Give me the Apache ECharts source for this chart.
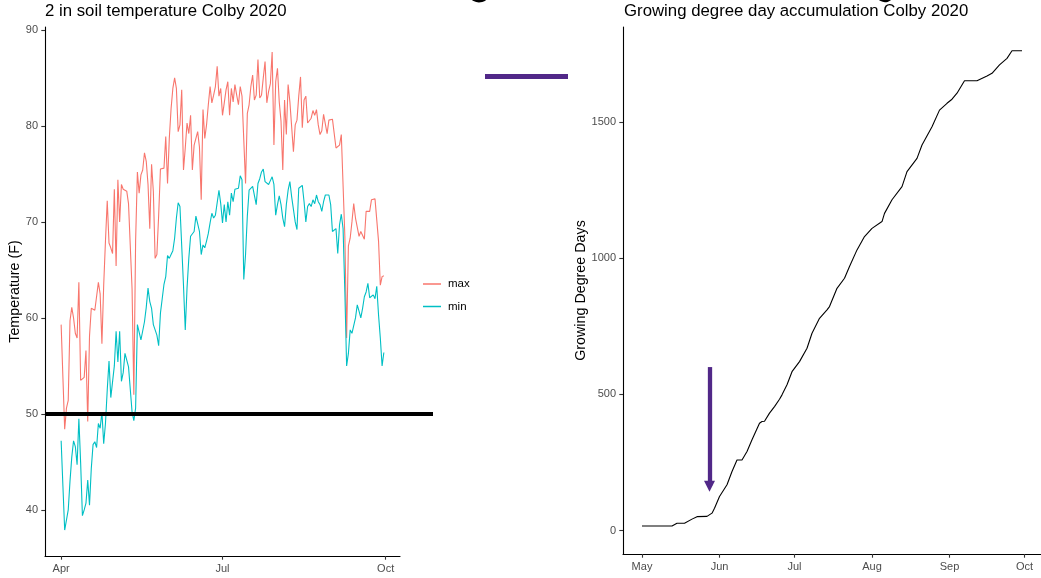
<!DOCTYPE html>
<html><head><meta charset="utf-8">
<script src="https://cdn.jsdelivr.net/npm/echarts@6/dist/echarts.min.js"></script>
<style>html,body{margin:0;padding:0;background:#fff}#c{width:1041px;height:578px}</style>
</head><body><div id="c"></div>
<script>
// ---------- data ----------
const soilStart = '2020-04-01';
const maxTemp = [
59.3,53.8,48.4,50.6,51.4,59.7,61.1,60.0,58.4,57.9,63.7,53.5,53.7,53.8,56.6,49.2,58.1,61.0,60.9,60.8,
60.7,63.7,62.5,57.3,63.4,68.0,72.2,67.8,67.3,66.7,73.4,65.4,74.4,70.0,73.9,73.4,73.5,73.2,71.9,71.8,
63.0,52.0,68.0,75.2,73.0,74.9,75.4,77.2,76.3,73.9,69.3,76.0,73.2,66.2,66.6,70.7,75.5,75.6,75.6,78.9,
74.0,78.7,81.8,83.9,85.0,83.9,79.4,80.1,83.75,75.4,77.7,80.3,79.2,81.1,75.4,78.0,78.0,79.4,77.8,72.3,
81.7,78.7,80.1,82.2,84.1,82.4,83.2,84.1,86.2,83.1,83.9,81.1,82.4,83.75,84.6,81.1,83.9,82.5,84.3,83.2,
82.2,84.1,83.1,83.3,74.0,81.3,82.2,84.1,85.3,82.7,83.2,86.9,82.9,83.2,85.0,86.7,82.4,83.6,84.4,87.7,
78.0,84.6,86.0,82.5,80.5,75.4,82.7,79.1,84.3,82.5,82.4,77.3,80.1,80.6,83.1,85.1,79.8,82.7,83.1,80.3,
80.3,80.8,81.6,81.1,81.7,80.1,79.1,79.5,81.2,81.0,79.2,80.6,80.5,80.7,80.5,77.7,77.5,78.0,79.1,79.1,
68.5,57.9,67.5,68.3,70.0,71.9,70.4,70.4,68.5,69.0,68.8,68.2,71.1,71.3,71.1,72.3,72.3,72.4,72.4,68.0,
63.4,64.3,64.4];
const minTemp = [
47.2,42.5,37.9,37.7,40.0,43.0,45.5,47.2,46.6,44.7,49.5,44.9,39.4,40.0,40.7,43.1,40.5,44.3,46.8,47.1,
46.5,49.0,48.5,50.2,46.9,49.0,52.5,55.5,51.7,51.7,55.0,58.6,55.4,58.6,53.4,54.3,56.3,56.1,54.9,54.7,
50.2,49.3,50.6,59.3,59.3,57.7,57.6,59.6,61.1,63.1,61.7,61.0,59.3,59.2,58.2,57.1,60.5,62.0,63.5,64.3,
66.5,66.2,66.6,67.0,68.3,70.4,72.0,71.6,71.6,63.4,58.75,63.1,66.2,68.5,68.7,69.0,70.6,70.6,69.0,66.6,
67.6,67.3,68.0,68.8,69.9,70.9,70.4,70.7,70.6,73.3,71.9,69.9,71.8,70.0,72.1,70.7,73.0,72.1,73.4,73.5,
73.5,74.8,74.4,64.0,66.6,70.6,73.3,73.5,73.7,73.9,71.8,74.0,74.5,75.2,75.5,74.2,74.0,73.9,74.3,74.7,
73.9,70.7,71.8,72.7,71.8,70.4,69.5,71.8,73.3,74.2,72.6,72.5,70.0,69.2,73.5,73.7,73.8,72.1,70.0,71.6,
71.9,71.6,72.3,71.9,72.8,72.1,71.8,71.1,72.1,72.8,73.0,72.8,71.8,69.0,69.0,69.3,66.7,69.7,70.8,69.3,
62.7,55.0,56.3,58.75,58.4,58.4,60.0,61.35,60.7,60.0,61.0,62.2,62.7,63.6,62.1,62.1,62.4,62.0,63.3,60.3,
57.9,55.0,56.4];
const gddDates = ['2020-05-01','2020-05-13','2020-05-15','2020-05-18','2020-05-21','2020-05-23','2020-05-27',
 '2020-05-29','2020-05-30','2020-06-01','2020-06-04','2020-06-06','2020-06-08','2020-06-10','2020-06-12',
 '2020-06-14','2020-06-17','2020-06-18','2020-06-19','2020-06-21','2020-06-23','2020-06-25','2020-06-26',
 '2020-06-28','2020-06-30','2020-07-03','2020-07-06','2020-07-08','2020-07-11','2020-07-14','2020-07-15',
 '2020-07-18','2020-07-21','2020-07-23','2020-07-26','2020-07-29','2020-08-01','2020-08-05','2020-08-06',
 '2020-08-09','2020-08-13','2020-08-15','2020-08-19','2020-08-21','2020-08-25','2020-08-28','2020-08-31',
 '2020-09-02','2020-09-04','2020-09-07','2020-09-12','2020-09-16','2020-09-18','2020-09-21','2020-09-24',
 '2020-09-26','2020-09-30'];
const gddValues = [17,17,27,27,42,51,52,
 64,82,125,168,217,259,259,290,
 333,394,400,401,431,455,482,498,
 535,583,620,669,724,779,810,822,
 889,926,969,1030,1079,1109,1134,1164,
 1214,1262,1317,1366,1415,1482,1543,1568,
 1583,1605,1651,1651,1668,1678,1709,1733,
 1761,1761];
const soilTickDates = ['2020-04-01','2020-07-01','2020-10-01'];
const soilTickLabels = ['Apr','Jul','Oct'];
const tempTicks = [40,50,60,70,80,90];
const gddTickDates = ['2020-05-01','2020-06-01','2020-07-01','2020-08-01','2020-09-01','2020-10-01'];
const gddTickLabels = ['May','Jun','Jul','Aug','Sep','Oct'];
const gddTicks = [0,500,1000,1500];
const thresholdTemp = 50;
const arrowDate = '2020-05-28';
const arrowFrom = 600;
const arrowHeadCenter = 163;

// ---------- helpers ----------
function ts(s){const p=s.split('-').map(Number);return new Date(p[0],p[1]-1,p[2]).getTime();}
const DAY = 86400000;
const sp = soilStart.split('-').map(Number);
const soilDates = maxTemp.map((_,i)=>new Date(sp[0],sp[1]-1,sp[2]+i).getTime());
const soilTickTs = soilTickDates.map(ts);
const gddTickTs = gddTickDates.map(ts);
const gddData = gddDates.map((d,i)=>[ts(d), gddValues[i]]);

const soilSpan = soilDates[soilDates.length-1]-soilDates[0];
const gddSpan = ts(gddDates[gddDates.length-1]) - ts(gddDates[0]);

const FONT = 'Liberation Sans, Arial, sans-serif';
function axisCommon(){
  return {
    axisLine:{show:true, onZero:false, lineStyle:{color:'#000', width:1.1}},
    splitLine:{show:false},
  };
}
function labelFor(list, labels){
  return function(v){
    let best=-1, bd=Infinity;
    list.forEach((t,i)=>{const d=Math.abs(t-v); if(d<bd){bd=d;best=i;}});
    return bd < DAY ? labels[best] : '';
  };
}
const TICK = {show:true, length:3.7, lineStyle:{color:'#333', width:1.1}};
const LBL = {color:'#4D4D4D', fontSize:11, fontFamily:FONT};

const chart = echarts.init(document.getElementById('c'), null, {renderer:'canvas'});
const option = {
  animation:false,
  backgroundColor:'#fff',
  textStyle:{fontFamily:FONT},
  title:[
    {text:'2 in soil temperature Colby 2020', left:45, top:3, padding:0, textStyle:{fontSize:16.8, fontWeight:'normal', color:'#000', fontFamily:FONT}},
    {text:'Growing degree day accumulation Colby 2020', left:624, top:3, padding:0, textStyle:{fontSize:16.8, fontWeight:'normal', color:'#000', fontFamily:FONT}}
  ],
  legend:{
    data:['max','min'], orient:'vertical', left:423, top:278, padding:0, icon:'rect',
    itemWidth:18, itemHeight:1.5, itemGap:10.5,
    textStyle:{fontSize:11.5, color:'#000', fontFamily:FONT, padding:[0,0,0,2]},
    selectedMode:false
  },
  grid:[
    {left:45, top:27, width:355, height:529, containLabel:false},
    {left:623, top:27, width:419, height:527, containLabel:false}
  ],
  xAxis:[
    Object.assign(axisCommon(),{
      type:'value', gridIndex:0, scale:true,
      min: soilDates[0]-0.05*soilSpan, max: soilDates[soilDates.length-1]+0.05*soilSpan,
      axisTick:Object.assign({customValues:soilTickTs}, TICK),
      axisLabel:Object.assign({margin:7, customValues:soilTickTs,
        formatter:labelFor(soilTickTs, soilTickLabels), hideOverlap:false, showMinLabel:true, showMaxLabel:true}, LBL)
    }),
    Object.assign(axisCommon(),{
      type:'value', gridIndex:1, scale:true,
      min: ts(gddDates[0])-0.05*gddSpan, max: ts(gddDates[gddDates.length-1])+0.05*gddSpan,
      axisTick:Object.assign({customValues:gddTickTs}, TICK),
      axisLabel:Object.assign({margin:7, customValues:gddTickTs,
        formatter:labelFor(gddTickTs, gddTickLabels), hideOverlap:false, showMinLabel:true, showMaxLabel:true}, LBL)
    })
  ],
  yAxis:[
    Object.assign(axisCommon(),{
      type:'value', gridIndex:0, min:35.2, max:90.3,
      name:'Temperature (F)', nameLocation:'middle', nameGap:21,
      nameTextStyle:{fontSize:14.3, color:'#000', fontFamily:FONT},
      axisTick:Object.assign({customValues:tempTicks}, TICK),
      axisLabel:Object.assign({margin:7, customValues:tempTicks,
        formatter:v=>tempTicks.includes(v)?String(v):''}, LBL)
    }),
    Object.assign(axisCommon(),{
      type:'value', gridIndex:1, min:-86, max:1848,
      name:'Growing Degree Days', nameLocation:'middle', nameGap:35,
      nameTextStyle:{fontSize:14.3, color:'#000', fontFamily:FONT},
      axisTick:Object.assign({customValues:gddTicks}, TICK),
      axisLabel:Object.assign({margin:7, customValues:gddTicks,
        formatter:v=>gddTicks.includes(v)?String(v):''}, LBL)
    })
  ],
  series:[
    {name:'max', type:'line', xAxisIndex:0, yAxisIndex:0, symbol:'none', showSymbol:false,
     data:soilDates.map((d,i)=>[d,maxTemp[i]]), color:'#F8766D',
     lineStyle:{color:'#F8766D', width:1.1}, emphasis:{disabled:true}},
    {name:'min', type:'line', xAxisIndex:0, yAxisIndex:0, symbol:'none', showSymbol:false,
     data:soilDates.map((d,i)=>[d,minTemp[i]]), color:'#00BFC4',
     lineStyle:{color:'#00BFC4', width:1.1}, emphasis:{disabled:true}},
    {name:'GDD', type:'line', xAxisIndex:1, yAxisIndex:1, symbol:'none', showSymbol:false,
     data:gddData, color:'#000', lineStyle:{color:'#000', width:1.1}, emphasis:{disabled:true},
     markLine:{silent:true, symbol:['none','triangle'], symbolSize:11, animation:false,
       label:{show:false}, emphasis:{disabled:true},
       lineStyle:{color:'#512888', width:4.3, type:'solid', opacity:1},
       data:[[{coord:[ts(arrowDate),arrowFrom]},{coord:[ts(arrowDate),arrowHeadCenter]}]]}
    }
  ]
};
chart.setOption(option);

const y50 = chart.convertToPixel({yAxisIndex:0}, thresholdTemp);
chart.setOption({
  graphic:[
    {type:'line', z:100, shape:{x1:45, y1:y50, x2:433, y2:y50}, style:{stroke:'#000', lineWidth:4}},
    {type:'line', z:100, shape:{x1:485, y1:76.5, x2:568, y2:76.5}, style:{stroke:'#512888', lineWidth:5}},
    {type:'arc', z:100, shape:{cx:479, cy:-9, r:10, startAngle:0.5, endAngle:Math.PI-0.5}, style:{stroke:'#000', lineWidth:3, fill:null}},
    {type:'arc', z:100, shape:{cx:885, cy:-7, r:8, startAngle:0.5, endAngle:Math.PI-0.5}, style:{stroke:'#000', lineWidth:2.5, fill:null}}
  ]
});
</script>
</body></html>
